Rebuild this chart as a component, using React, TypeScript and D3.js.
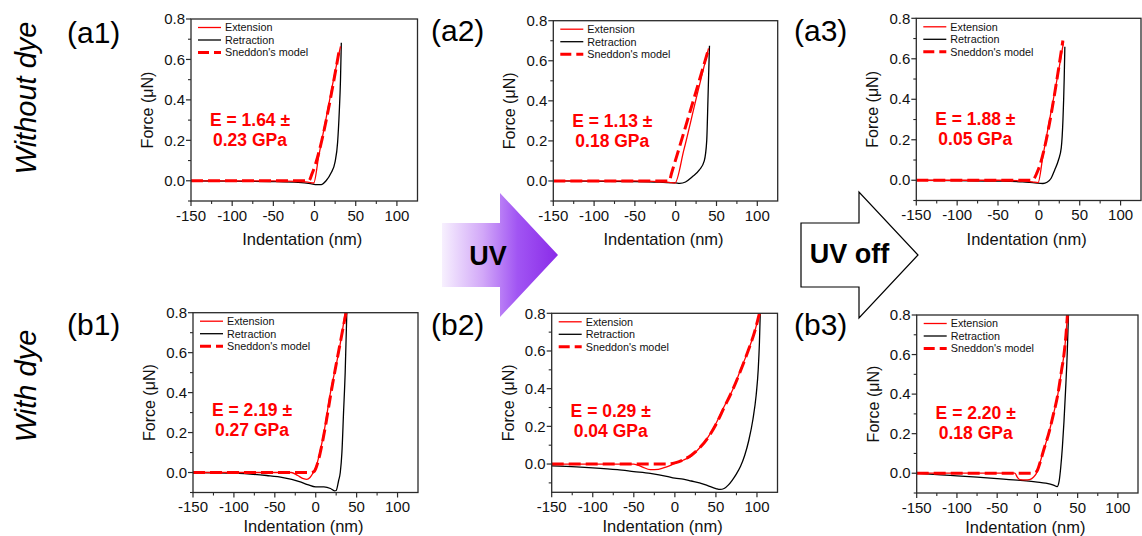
import React from "react";
import * as d3 from "d3";

type Pt = [number, number];

// ---------- data ----------
const xMajorTicks = [-150, -100, -50, 0, 50, 100];
const xMinorTicks = [-125, -75, -25, 25, 75];
const yMajorTicks = [0, 0.2, 0.4, 0.6, 0.8];
const yMinorTicks = [-0.1, 0.1, 0.3, 0.5, 0.7];
const legendLabels = ["Extension", "Retraction", "Sneddon's model"];

const a1Extension: Pt[] = [[-150, 0], [-50, 0], [-20, -0.003], [-8, -0.007], [-1, -0.011], [5, 0.12], [15, 0.33], [25, 0.54], [31.5, 0.665]];
const a1Retraction: Pt[] = [[-150, 0], [-100, -0.002], [-50, -0.004], [-20, -0.008], [-5, -0.014], [3, -0.019], [8, -0.019], [14, 0.0], [20, 0.038], [25, 0.095], [28, 0.19], [30, 0.34], [31.5, 0.5], [32.5, 0.683]];
const a1Sneddon: Pt[] = [[-150, 0], [-7, 0], [-3, 0.035], [30.4, 0.655]];

const a2Extension: Pt[] = [[-150, 0], [-50, 0], [-20, -0.003], [-8, -0.007], [-1, -0.011], [10, 0.155], [25, 0.41], [40.2, 0.662]];
const a2Retraction: Pt[] = [[-150, 0], [-50, -0.003], [-20, -0.006], [0, -0.01], [5, -0.012], [12, -0.005], [20, 0.02], [29, 0.055], [35, 0.1], [38, 0.2], [39.5, 0.4], [40.5, 0.55], [41.4, 0.675]];
const a2Sneddon: Pt[] = [[-150, 0], [-8, 0], [-5, 0.04], [40, 0.655]];

const a3Extension: Pt[] = [[-150, 0], [-50, 0], [-20, -0.003], [-8, -0.008], [-1, -0.012], [5, 0.12], [15, 0.34], [25, 0.56], [30.2, 0.683]];
const a3Retraction: Pt[] = [[-150, 0], [-100, -0.002], [-50, -0.004], [-20, -0.008], [-5, -0.013], [5, -0.016], [10, -0.01], [15, 0.01], [19.3, 0.05], [24, 0.1], [27.4, 0.16], [29.5, 0.3], [31, 0.5], [31.8, 0.66]];
const a3Sneddon: Pt[] = [[-150, 0], [-8, 0], [-2, 0.04], [29.4, 0.69]];

const b1Extension: Pt[] = [[-150, 0], [-30, 0], [-22, -0.015], [-15, -0.031], [-11, -0.034], [-7, -0.025], [-3, 0], [0, 0.025], [5, 0.1], [10, 0.2], [18, 0.4], [24, 0.52], [28.5, 0.61], [33, 0.72], [36, 0.8]];
const b1Retraction: Pt[] = [[-150, 0], [-100, -0.003], [-60, -0.015], [-40, -0.025], [-20, -0.045], [-10, -0.06], [0, -0.072], [10, -0.072], [18, -0.08], [23, -0.092], [25, -0.09], [28, -0.04], [30, 0.0], [32, 0.1], [34, 0.3], [36, 0.5], [38, 0.8]];
const b1Sneddon: Pt[] = [[-150, 0], [-6, 0], [-2, 0.005], [0, 0.02], [5, 0.09], [10, 0.19], [20, 0.43], [30, 0.65], [37, 0.8]];

const b2Extension: Pt[] = [[-150, 0], [-50, 0], [-40, -0.015], [-30, -0.03], [-20, -0.028], [-10, -0.015], [0, 0.003], [10, 0.02], [20, 0.042], [30, 0.085], [40, 0.14], [50, 0.215], [60, 0.305], [70, 0.39], [80, 0.5], [90, 0.61], [97, 0.7], [103, 0.8]];
const b2Retraction: Pt[] = [[-150, -0.01], [-120, -0.015], [-100, -0.02], [-70, -0.03], [-50, -0.04], [-30, -0.05], [-10, -0.065], [0, -0.075], [10, -0.08], [20, -0.09], [30, -0.1], [40, -0.115], [50, -0.13], [55, -0.135], [60, -0.13], [65, -0.112], [70, -0.085], [75, -0.052], [80, -0.012], [85, 0.045], [90, 0.125], [95, 0.235], [99, 0.365], [101.5, 0.5], [103, 0.645], [104, 0.8]];
const b2Sneddon: Pt[] = [[-150, 0], [-10, 0], [0, 0.006], [10, 0.022], [20, 0.047], [30, 0.085], [40, 0.138], [50, 0.21], [60, 0.3], [70, 0.39], [80, 0.495], [90, 0.61], [97, 0.7], [103, 0.8]];

const b3Extension: Pt[] = [[-150, 0], [-28, 0], [-25, -0.02], [-22, -0.032], [-15, -0.034], [-10, -0.032], [-5, -0.02], [0, 0.01], [3, 0.05], [8, 0.12], [14, 0.2], [20, 0.3], [25, 0.39], [30, 0.52], [33, 0.6], [35.5, 0.7], [37.3, 0.8]];
const b3Retraction: Pt[] = [[-150, 0], [-120, -0.008], [-100, -0.013], [-75, -0.02], [-50, -0.027], [-25, -0.035], [0, -0.045], [10, -0.05], [20, -0.06], [24.5, -0.068], [27, -0.04], [29, 0.03], [31, 0.13], [33, 0.26], [35, 0.42], [37, 0.6], [38.6, 0.8]];
const b3Sneddon: Pt[] = [[-150, 0], [-6, 0], [-2, 0.005], [0, 0.015], [3, 0.05], [8, 0.12], [14, 0.2], [20, 0.3], [25, 0.39], [30, 0.52], [33, 0.6], [35.5, 0.7], [37.3, 0.8]];

const panelIds = ["a1", "a2", "a3", "b1", "b2", "b3"];
const modulusValues = ["1.64", "1.13", "1.88", "2.19", "0.29", "2.20"];
const modulusErrors = ["0.23", "0.18", "0.05", "0.27", "0.04", "0.18"];
const yMinimums = [-0.1, -0.1, -0.1, -0.1, -0.15, -0.1];
const extensions = [a1Extension, a2Extension, a3Extension, b1Extension, b2Extension, b3Extension];
const retractions = [a1Retraction, a2Retraction, a3Retraction, b1Retraction, b2Retraction, b3Retraction];
const sneddons = [a1Sneddon, a2Sneddon, a3Sneddon, b1Sneddon, b2Sneddon, b3Sneddon];

// ---------- layout ----------
const frames = [
  { left: 191, right: 417.5, top: 19, bottom: 201 },
  { left: 553.3, right: 777.7, top: 20.7, bottom: 201 },
  { left: 916.3, right: 1141, top: 18.3, bottom: 200.5 },
  { left: 193, right: 418, top: 312.7, bottom: 492.5 },
  { left: 551.7, right: 777.5, top: 313.3, bottom: 492.3 },
  { left: 916.7, right: 1138, top: 315, bottom: 493 },
];
const panelLabelPos = [
  [67, 43], [431, 41], [794, 41], [67, 335], [431, 335], [794, 335],
];

const FONT = "'Liberation Sans', Arial, Helvetica, sans-serif";
const RED = "#ff0000";

function Panel({ i }: { i: number }) {
  const f = frames[i];
  const x = d3.scaleLinear().domain([-150, 125]).range([f.left, f.right]);
  const y = d3.scaleLinear().domain([yMinimums[i], 0.8]).range([f.bottom, f.top]);
  const line = d3
    .line<Pt>()
    .x((d) => x(d[0]))
    .y((d) => y(d[1]))
    .curve(d3.curveMonotoneX);
  const clipId = `clip-${panelIds[i]}`;
  const isTop = i < 3;
  const axisColor = "#2a2a2a";
  const legX = f.left + 7;
  const legRows = [f.top + 8.5, f.top + 21, f.top + 33.5];
  const eX = f.left + 59;
  const eY1 = f.top + (isTop ? 106.5 : 103.5);
  return (
    <g>
      <defs>
        <clipPath id={clipId}>
          <rect x={f.left} y={f.top} width={f.right - f.left} height={f.bottom - f.top} />
        </clipPath>
      </defs>
      {/* curves */}
      <g clipPath={`url(#${clipId})`} fill="none">
        <path d={line(retractions[i]) || ""} stroke="#000" strokeWidth={1.3} />
        <path d={line(extensions[i]) || ""} stroke={RED} strokeWidth={1.3} />
        <path d={line(sneddons[i]) || ""} stroke={RED} strokeWidth={3} strokeDasharray="12,5" />
      </g>
      {/* frame */}
      <rect x={f.left} y={f.top} width={f.right - f.left} height={f.bottom - f.top} fill="none" stroke={axisColor} strokeWidth={1.3} />
      {/* x ticks */}
      {xMajorTicks.map((t) => (
        <g key={`xm${t}`}>
          <line x1={x(t)} x2={x(t)} y1={f.bottom} y2={f.bottom + 5} stroke={axisColor} strokeWidth={1.2} />
          <text x={x(t)} y={f.bottom + 19.5} textAnchor="middle" fontSize={15} fontFamily={FONT} fill="#111">
            {t}
          </text>
        </g>
      ))}
      {xMinorTicks.map((t) => (
        <line key={`xn${t}`} x1={x(t)} x2={x(t)} y1={f.bottom} y2={f.bottom + 3} stroke={axisColor} strokeWidth={1.1} />
      ))}
      {/* y ticks */}
      {yMajorTicks.map((t) => (
        <g key={`ym${t}`}>
          <line x1={f.left - 5} x2={f.left} y1={y(t)} y2={y(t)} stroke={axisColor} strokeWidth={1.2} />
          <text x={f.left - 6} y={y(t) + 5.2} textAnchor="end" fontSize={15} fontFamily={FONT} fill="#111">
            {t.toFixed(1)}
          </text>
        </g>
      ))}
      {yMinorTicks.map((t) => (
        <line key={`yn${t}`} x1={f.left - 3} x2={f.left} y1={y(t)} y2={y(t)} stroke={axisColor} strokeWidth={1.1} />
      ))}
      {/* axis titles */}
      <text
        transform={`translate(${f.left - 38},${(f.top + f.bottom) / 2}) rotate(-90)`}
        textAnchor="middle"
        fontSize={16}
        fontFamily={FONT}
        fill="#111"
      >
        Force (μN)
      </text>
      <text
        x={(f.left + f.right) / 2 - 2}
        y={f.bottom + (isTop ? 44 : 39.5)}
        textAnchor="middle"
        fontSize={16.5}
        fontFamily={FONT}
        fill="#111"
      >
        Indentation (nm)
      </text>
      {/* legend */}
      <line x1={legX} x2={legX + 23} y1={legRows[0]} y2={legRows[0]} stroke={RED} strokeWidth={1.3} />
      <line x1={legX} x2={legX + 23} y1={legRows[1]} y2={legRows[1]} stroke="#000" strokeWidth={1.3} />
      <line x1={legX} x2={legX + 23} y1={legRows[2]} y2={legRows[2]} stroke={RED} strokeWidth={3} strokeDasharray="11,5" />
      {legendLabels.map((l, k) => (
        <text key={l} x={legX + 27} y={legRows[k] + 3.8} fontSize={10.8} fontFamily={FONT} fill="#111">
          {l}
        </text>
      ))}
      {/* modulus annotation */}
      <text x={eX} y={eY1} textAnchor="middle" fontSize={17.5} fontWeight="bold" fontFamily={FONT} fill={RED}>
        {`E = ${modulusValues[i]} ±`}
      </text>
      <text x={eX} y={eY1 + 20} textAnchor="middle" fontSize={17.5} fontWeight="bold" fontFamily={FONT} fill={RED}>
        {`${modulusErrors[i]} GPa`}
      </text>
      {/* panel label */}
      <text x={panelLabelPos[i][0]} y={panelLabelPos[i][1]} fontSize={30} fontFamily={FONT} fill="#000">
        {`(${panelIds[i]})`}
      </text>
    </g>
  );
}

function arrowPath(x0: number, xb: number, xt: number, cy: number, bodyHalf: number, headHalf: number) {
  const p = d3.path();
  p.moveTo(x0, cy - bodyHalf);
  p.lineTo(xb, cy - bodyHalf);
  p.lineTo(xb, cy - headHalf);
  p.lineTo(xt, cy);
  p.lineTo(xb, cy + headHalf);
  p.lineTo(xb, cy + bodyHalf);
  p.lineTo(x0, cy + bodyHalf);
  p.closePath();
  return p.toString();
}

export default function App() {
  return (
    <svg
      width={1142}
      height={536}
      viewBox="0 0 1142 536"
      style={{ position: "absolute", left: 0, top: 0, background: "#fff" }}
    >
      <defs>
        <linearGradient id="uvGrad" x1="0" x2="1" y1="0" y2="0">
          <stop offset="0" stopColor="#f7f0fe" />
          <stop offset="0.35" stopColor="#d2a8f8" />
          <stop offset="0.65" stopColor="#a155f3" />
          <stop offset="1" stopColor="#8a2be8" />
        </linearGradient>
      </defs>
      <rect x={0} y={0} width={1142} height={536} fill="#fff" />
      {frames.map((_, i) => (
        <Panel key={i} i={i} />
      ))}
      {/* row labels */}
      <text
        transform="translate(36,98) rotate(-90)"
        textAnchor="middle"
        fontSize={29}
        fontStyle="italic"
        fontFamily={FONT}
        fill="#000"
      >
        Without dye
      </text>
      <text
        transform="translate(36,386) rotate(-90)"
        textAnchor="middle"
        fontSize={29}
        fontStyle="italic"
        fontFamily={FONT}
        fill="#000"
      >
        With dye
      </text>
      {/* UV arrow */}
      <path d={arrowPath(442, 500, 558, 255, 32, 62)} fill="url(#uvGrad)" />
      <text x={488} y={264.5} textAnchor="middle" fontSize={27} fontWeight="bold" fontFamily={FONT} fill="#000">
        UV
      </text>
      {/* UV off arrow */}
      <path d={arrowPath(801, 859, 918, 255, 32, 63)} fill="#fff" stroke="#000" strokeWidth={1.2} />
      <text x={849.5} y={262.5} textAnchor="middle" fontSize={27} fontWeight="bold" fontFamily={FONT} fill="#000">
        UV off
      </text>
    </svg>
  );
}
